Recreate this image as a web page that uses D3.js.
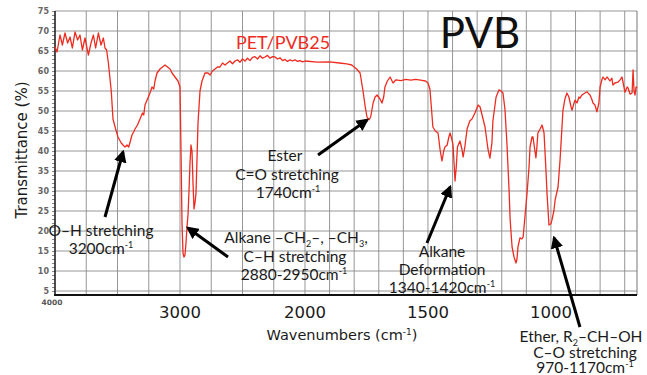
<!DOCTYPE html>
<html><head><meta charset="utf-8">
<script src="https://cdn.jsdelivr.net/npm/d3@7"></script>
<style>html,body{margin:0;padding:0;background:#fff;}svg{display:block;}</style>
</head><body>
<svg id="c" width="647" height="375"></svg>
<script>
// ---- data ----
const spectrum = [
[4000,66],[3984,64.75],[3960,69],[3941,66.5],[3920,69.5],[3899,67],[3880,68.5],[3861,65.75],[3840,69.75],[3819,67.75],
[3800,69],[3781,65.25],[3760,68.25],[3733,64],[3712,67],[3693,69],[3675,65.75],[3653,69.5],[3632,66.5],[3613,68.25],
[3600,65.75],[3587,65.25],[3573,62],[3550,55],[3536,48],[3515,45.5],[3496,43.5],[3470,42],[3456,41.5],[3440,41],
[3424,41.5],[3410,41],[3384,44],[3370,44.8],[3360,45.5],[3340,46.5],[3320,48],[3300,49.5],[3290,49],[3280,51.5],[3260,53],
[3240,54.5],[3224,56],[3210,55.5],[3200,57.5],[3184,59.5],[3160,60.5],[3140,61],[3120,61.5],[3100,61],[3080,60.5],
[3064,59.5],[3040,58.5],[3016,57.5],[3000,56],[2992,40],[2984,22],[2976,14.5],[2968,13.5],[2960,14],[2952,17],
[2944,21],[2936,24],[2928,30],[2920,37],[2912,41.5],[2904,40],[2896,32],[2888,25.5],[2880,27],[2872,29.5],
[2864,38],[2856,47],[2840,55],[2824,57.5],[2800,59.5],[2776,59.5],[2760,59],[2740,60],[2720,60.5],[2700,61],
[2680,61],[2660,62],[2640,61.5],[2620,62],[2600,62.5],[2580,61.8],[2560,62.5],[2540,62.8],[2520,62.2],[2500,63],
[2480,62.5],[2460,63.2],[2440,62.6],[2420,63.4],[2400,63.6],[2380,63],[2360,63.8],[2340,63.2],[2320,63.5],[2300,63.9],
[2280,63.2],[2260,63.6],[2240,63.5],[2220,63],[2200,63.3],[2180,62.6],[2160,62.9],[2140,62.4],[2120,62.8],[2100,62.5],
[2080,62.8],[2060,62.4],[2040,62.6],[2020,62.3],[2000,62.5],
[1950,62.2],[1900,62.3],[1860,62],[1830,61.8],[1810,61.5],[1790,60.5],[1776,59.5],[1764,55],[1755,51],[1748,48.5],
[1740,47.8],[1733,48.5],[1723,52],[1715,53.5],[1707,54],[1695,53],[1687,52],[1680,53.5],[1675,56],[1665,57.5],
[1654,58.5],[1642,57],[1630,57.8],[1610,57.6],[1590,57.9],[1570,57.7],[1550,57.9],[1530,57.7],[1510,57.5],[1500,57],
[1492,55.5],[1485,50],[1480,46],[1470,45],[1459,44.5],[1450,40],[1443,37.5],[1436,40],[1431,41],[1422,41.5],
[1415,43.5],[1410,44.5],[1403,43],[1398,41.5],[1394,37],[1390,32.5],[1385,36],[1380,41],[1370,42.5],[1362,40.5],
[1357,38.5],[1350,41],[1341,45.5],[1330,47.5],[1321,48],[1309,49.5],[1296,51.5],[1288,51],[1280,49],[1268,46],
[1256,40.5],[1248,38.2],[1240,42],[1236,47.5],[1223,53.5],[1211,55.3],[1203,55],[1195,54.5],[1187,50.5],[1179,42],
[1170,30],[1166,23],[1158,16],[1150,13.5],[1142,12],[1138,13],[1134,16],[1126,18.3],[1118,18],[1113,18.5],
[1105,24],[1097,29.5],[1089,36],[1085,41],[1077,43.5],[1073,43.5],[1065,40],[1061,38.3],[1057,41],[1053,44.5],
[1044,45.5],[1036,46.5],[1028,44.5],[1020,35],[1016,29.5],[1008,21.5],[1000,21.8],[996,22.7],[988,25],[983,27.7],
[971,31],[963,37.7],[955,46],[951,50.2],[943,53],[935,54.5],[927,53.5],[918,51],[914,50.2],[906,52],
[902,52.7],[894,52],[886,53.5],[882,53.2],[874,54],[862,54.5],[853,54.8],[845,54.2],[841,54],[833,52.8],
[829,52],[821,51.5],[813,49.8],[805,52],[800,56],[792,58],[788,58.5],[780,57.8],[772,58.5],[768,58.2],
[760,57.5],[752,58.2],[748,56.5],[740,57],[727,57.2],[719,57.8],[711,58.5],[703,56],[699,54.7],[690,56],
[686,55.7],[678,54.2],[670,54.5],[666,60.3],[662,55],[658,54],[654,56],[650,55.7]
];
const xTickLabels = [3000, 2000, 1500, 1000];
const xStartLabel = 4000;
const yTicks = [5,10,15,20,25,30,35,40,45,50,55,60,65,70,75];
const xGridHigh = [3750,3500,3250,3000,2750,2500,2250,2000];
const xGridLow = [1900,1800,1700,1600,1500,1400,1300,1200,1100,1000,900,800,700];
const seriesName = "PET/PVB25";
const chartTitle = "PVB";

// ---- scales ----
const svg = d3.select("#c");
const x = d3.scaleLinear().domain([4000, 2000, 650]).range([55, 305, 637]);
const y = d3.scaleLinear().domain([4, 75]).range([295, 11]);
const X0 = x(4000), X1 = x(650), Y0 = y(4), Y1 = y(75);

// grid
const g = svg.append("g");
g.selectAll("line.vg").data(xGridHigh.concat(xGridLow)).enter().append("line")
  .attr("x1", d => x(d)).attr("x2", d => x(d)).attr("y1", Y1).attr("y2", Y0)
  .attr("stroke", "#8a8a8a").attr("stroke-width", 0.9);
g.selectAll("line.hg").data(yTicks).enter().append("line")
  .attr("x1", X0).attr("x2", X1).attr("y1", d => y(d)).attr("y2", d => y(d))
  .attr("stroke", "#8a8a8a").attr("stroke-width", 0.9);
// right border
g.append("line").attr("x1", X1).attr("x2", X1).attr("y1", Y1).attr("y2", Y0)
  .attr("stroke", "#777").attr("stroke-width", 1);

// left axis with minor ticks
const yAxis = d3.axisLeft(y).tickValues(d3.range(5, 76, 1)).tickSize(3).tickFormat("");
const ya = svg.append("g").attr("transform", `translate(${X0},0)`).call(yAxis);
ya.select(".domain").remove();
ya.selectAll("line").attr("stroke", "#555").attr("stroke-width", 0.7);
svg.append("g").selectAll("text").data(yTicks).enter().append("text")
  .attr("x", X0 - 6).attr("y", d => y(d)).attr("dy", "0.35em")
  .attr("text-anchor", "end").attr("font-family", "DejaVu Sans").attr("font-weight", "bold")
  .attr("font-size", 8).attr("fill", "#666").text(d => d);
svg.append("line").attr("x1", X0).attr("x2", X0).attr("y1", Y1).attr("y2", Y0)
  .attr("stroke", "#222").attr("stroke-width", 1.6);

// bottom axis
svg.append("line").attr("x1", X0 - 1).attr("x2", X1).attr("y1", Y0).attr("y2", Y0)
  .attr("stroke", "#111").attr("stroke-width", 2);
svg.append("text").attr("x", x(xStartLabel) - 3).attr("y", Y0 + 10).attr("text-anchor", "middle")
  .attr("font-family", "DejaVu Sans").attr("font-weight", "bold").attr("font-size", 7.5).attr("fill", "#555")
  .text(xStartLabel);
svg.append("g").selectAll("text").data(xTickLabels).enter().append("text")
  .attr("x", d => x(d)).attr("y", 318).attr("text-anchor", "middle")
  .attr("font-family", "DejaVu Sans").attr("font-size", 16.5).attr("fill", "#1a1a1a").text(d => d);

// axis titles
const xt = svg.append("text").attr("x", 342).attr("y", 340).attr("text-anchor", "middle")
  .attr("font-family", "DejaVu Sans").attr("font-size", 14.5).attr("fill", "#1a1a1a");
xt.append("tspan").text("Wavenumbers (cm");
xt.append("tspan").attr("font-size", 9).attr("dy", -5).text("-1");
xt.append("tspan").attr("dy", 5).text(")");
svg.append("text").attr("transform", "translate(27,150) rotate(-90)").attr("text-anchor", "middle")
  .attr("font-family", "DejaVu Sans").attr("font-size", 15).attr("fill", "#1a1a1a")
  .text("Transmittance (%)");

// spectrum
svg.append("path").datum(spectrum)
  .attr("d", d3.line().x(d => x(d[0])).y(d => y(d[1])))
  .attr("fill", "none").attr("stroke", "#ee2b20").attr("stroke-width", 1.3).attr("stroke-linejoin", "round");

// titles
svg.append("text").attr("x", 283).attr("y", 49).attr("text-anchor", "middle")
  .attr("font-family", "Lato").attr("font-size", 18).attr("fill", "#ee2b20").text(seriesName);
svg.append("text").attr("x", 480).attr("y", 48).attr("text-anchor", "middle")
  .attr("font-family", "Lato").attr("font-size", 42).attr("fill", "#111").text(chartTitle);

// annotations
const defs = svg.append("defs");
defs.append("marker").attr("id", "ah").attr("viewBox", "0 0 10 10").attr("refX", 8).attr("refY", 5)
  .attr("markerWidth", 4.2).attr("markerHeight", 4.2).attr("orient", "auto")
  .append("path").attr("d", "M0,0 L10,5 L0,10 Z").attr("fill", "#000");
const arrows = [
  {from:[3600,23.5], to:[3456,39.75]},
  {from:[2616,13.5], to:[2936,20.75]},
  {from:[1947,39], to:[1748,47.75]},
  {from:[1504,17], to:[1410,31]},
  {from:[882,-4], to:[987,18.25]}
];
svg.append("g").selectAll("line").data(arrows).enter().append("line")
  .attr("x1", d => x(d.from[0])).attr("y1", d => y(d.from[1]))
  .attr("x2", d => x(d.to[0])).attr("y2", d => y(d.to[1]))
  .attr("stroke", "#000").attr("stroke-width", 3).attr("marker-end", "url(#ah)");

function label(cx, cy, parts) {
  const t = svg.append("text").attr("x", cx).attr("y", cy).attr("text-anchor", "middle")
    .attr("font-family", "Lato").attr("font-size", 15.5).attr("fill", "#1a1a1a");
  parts.forEach(p => {
    const s = t.append("tspan").text(p.t);
    if (p.sup) s.attr("font-size", 9).attr("dy", -6);
    if (p.sub) s.attr("font-size", 9).attr("dy", 4);
    if (p.back) s.attr("dy", p.back);
  });
  return t;
}
label(101, 236, [{t:"O\u2013H stretching"}]);
label(101, 254, [{t:"3200cm"},{t:"-1",sup:true}]);
label(296, 243, [{t:"Alkane  \u2013CH"},{t:"2",sub:true},{t:"\u2013, \u2013CH",back:-4},{t:"3",sub:true},{t:",",back:-4}]);
label(295, 262, [{t:"C\u2013H stretching"}]);
label(294, 280, [{t:"2880-2950cm"},{t:"-1",sup:true}]);
label(285, 161, [{t:"Ester"}]);
label(287, 180, [{t:"C=O stretching"}]);
label(288, 198, [{t:"1740cm"},{t:"-1",sup:true}]);
label(442, 257, [{t:"Alkane"}]);
label(442, 275, [{t:"Deformation"}]);
label(442, 293, [{t:"1340-1420cm"},{t:"-1",sup:true}]);
label(581, 342, [{t:"Ether, R"},{t:"2",sub:true},{t:"\u2013CH\u2013OH",back:-4}]);
label(585, 358, [{t:"C\u2013O stretching"}]);
label(585, 373, [{t:"970-1170cm"},{t:"-1",sup:true}]);
</script>
</body></html>
